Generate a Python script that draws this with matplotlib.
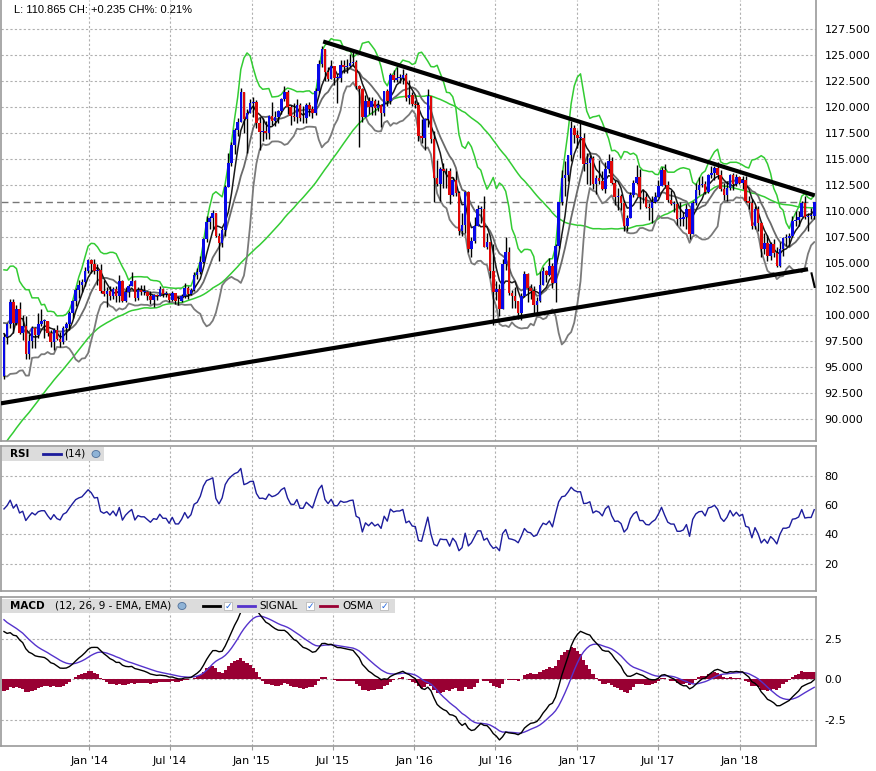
import numpy as np
import pandas as pd
import matplotlib
matplotlib.use("Agg")
import matplotlib.pyplot as plt
import matplotlib.dates as mdates
from matplotlib.patches import Rectangle, Circle
from matplotlib.lines import Line2D

# weekly USD/JPY candles, first week starts Mon 17 Jun 2013
first_week = "2013-06-17"
first_open = 94.1

close_2013 = [97.9, 99.1, 101.2, 99.2, 100.6, 98.3, 98.9, 96.2, 97.5, 98.7, 98.1, 99.1, 99.4, 99.4,
              98.3, 97.4, 98.6, 97.7, 97.4, 98.7, 99.1, 100.2, 101.3, 102.4, 102.9, 103.2, 104.2,
              105.3, 104.9]
high_2013 = [98.3, 99.2, 101.5, 101.5, 101.0, 101.2, 100.0, 99.9, 98.2, 98.9, 98.8, 100.2, 100.6, 99.6,
             99.4, 98.6, 98.7, 99.0, 98.4, 98.9, 99.3, 100.4, 101.4, 102.6, 103.4, 103.5, 104.6,
             105.4, 105.4]
low_2013 = [93.8, 97.2, 98.7, 98.3, 99.0, 98.2, 97.6, 95.8, 95.8, 96.8, 96.8, 97.8, 98.9, 97.8,
            98.0, 96.9, 96.6, 97.6, 96.9, 97.2, 97.6, 98.6, 99.7, 100.9, 101.6, 102.2, 102.8,
            104.0, 104.0]

close_2014 = [104.2, 104.3, 102.3, 102.0, 102.3, 101.8, 102.5, 101.8, 103.3, 101.3, 102.2, 102.8,
              103.3, 101.6, 102.4, 102.2, 102.2, 101.8, 101.4, 101.9, 101.8, 102.5, 102.0, 102.0,
              101.4, 102.1, 101.3, 101.3, 101.8, 102.6, 102.0, 102.4, 103.8, 104.1, 105.1, 107.3,
              108.9, 109.3, 109.8, 107.6, 106.9, 108.2, 112.3, 114.6, 116.3, 117.8, 118.6, 121.4,
              118.8, 119.4, 120.4, 120.5]
high_2014 = [105.4, 104.9, 104.9, 103.4, 102.7, 102.8, 102.7, 102.8, 103.8, 103.4, 102.7, 103.0,
             104.1, 103.4, 102.7, 102.9, 102.9, 102.3, 102.3, 102.0, 102.0, 102.8, 102.6, 102.3,
             102.1, 102.3, 102.1, 101.8, 102.0, 103.1, 102.8, 102.6, 104.1, 104.5, 105.7, 107.4,
             109.5, 109.5, 110.1, 109.2, 107.9, 108.4, 112.5, 115.6, 116.6, 118.0, 118.9, 121.8,
             121.4, 119.8, 120.8, 121.0]
low_2014 = [103.9, 102.9, 102.1, 101.8, 100.8, 101.4, 101.5, 101.2, 101.2, 101.2, 101.2, 101.7,
            102.8, 101.3, 101.4, 101.9, 101.9, 101.4, 101.1, 100.8, 101.4, 101.9, 101.7, 101.7,
            101.2, 101.3, 101.1, 101.0, 101.2, 101.6, 101.5, 101.9, 102.3, 103.5, 103.9, 105.0,
            107.0, 108.3, 108.3, 107.5, 105.2, 106.5, 107.6, 112.3, 114.3, 115.5, 117.2, 118.6,
            117.5, 115.6, 119.4, 119.0]

close_2015 = [118.5, 117.6, 117.7, 117.5, 119.1, 118.7, 119.0, 119.6, 120.8, 121.4, 120.0, 119.1,
              119.0, 120.2, 118.9, 118.9, 120.2, 119.8, 119.4, 121.5, 124.1, 125.6, 123.4, 122.7,
              123.9, 122.8, 122.8, 124.0, 123.8, 123.9, 124.2, 124.3, 122.0, 121.7, 119.0, 120.6,
              120.0, 120.6, 119.9, 120.2, 119.4, 121.5, 120.6, 123.1, 122.6, 122.8, 122.8, 123.1,
              120.9, 121.2, 120.3, 120.2]
high_2015 = [120.7, 119.0, 118.9, 118.7, 119.2, 120.5, 119.6, 119.7, 120.9, 122.0, 121.6, 120.2,
             120.4, 120.8, 120.4, 120.1, 120.4, 120.5, 120.1, 121.8, 124.5, 125.9, 125.6, 123.8,
             124.5, 123.6, 123.2, 124.5, 124.5, 124.6, 125.1, 125.3, 124.5, 122.1, 121.8, 121.2,
             121.0, 121.0, 120.8, 120.7, 120.3, 121.5, 121.7, 123.3, 123.6, 123.8, 123.2, 123.7,
             123.3, 122.6, 121.4, 120.7]
low_2015 = [118.0, 115.9, 116.7, 116.9, 116.9, 118.3, 118.2, 118.5, 119.3, 120.6, 119.3, 118.3,
            118.7, 118.5, 118.7, 118.5, 118.5, 119.1, 118.9, 119.2, 121.3, 123.8, 122.5, 122.5,
            122.7, 122.1, 120.4, 122.4, 123.3, 123.3, 123.8, 123.9, 121.7, 116.2, 118.6, 119.3,
            119.3, 119.2, 119.2, 119.6, 118.1, 119.1, 120.1, 120.3, 122.4, 122.4, 122.3, 122.2,
            120.6, 120.3, 120.1, 119.9]

close_2016 = [117.2, 117.0, 118.8, 121.1, 116.9, 113.2, 112.6, 114.0, 113.8, 113.8, 111.5, 113.0,
              111.7, 108.1, 108.7, 111.8, 106.3, 107.1, 108.6, 110.2, 110.2, 106.5, 107.0, 104.2,
              102.2, 102.5, 100.6, 104.9, 106.1, 102.1, 101.8, 101.3, 100.2, 101.8, 103.9, 102.6,
              102.3, 101.0, 101.3, 102.9, 104.2, 103.8, 104.7, 103.1, 106.6, 110.9, 113.2, 113.5,
              115.4, 118.0, 117.3, 117.0]
high_2016 = [120.5, 118.8, 118.9, 121.7, 121.0, 117.7, 114.9, 114.2, 114.6, 114.1, 114.1, 113.3,
             113.8, 111.9, 109.8, 111.9, 111.9, 107.5, 109.4, 110.6, 110.5, 111.4, 107.9, 107.0,
             106.8, 103.3, 103.0, 105.4, 107.5, 106.5, 102.4, 102.7, 101.3, 102.1, 104.2, 104.0,
             103.0, 102.8, 101.7, 104.2, 104.6, 104.3, 105.5, 105.0, 106.8, 110.9, 113.9, 114.8,
             115.4, 118.7, 118.3, 117.8]
low_2016 = [116.7, 116.5, 115.9, 118.1, 116.5, 110.9, 112.4, 111.0, 112.2, 112.2, 110.7, 111.4,
            111.4, 107.7, 107.6, 107.9, 106.1, 105.6, 106.9, 108.7, 108.8, 106.5, 106.3, 103.6,
            99.0, 101.4, 99.9, 100.7, 104.3, 101.9, 100.7, 100.7, 99.6, 99.5, 101.7, 101.2,
            101.5, 100.1, 100.1, 101.2, 102.9, 103.2, 103.7, 102.6, 101.2, 106.4, 110.6, 111.4,
            112.9, 114.8, 116.5, 116.1]

close_2017 = [117.0, 114.5, 114.6, 115.1, 112.6, 113.2, 112.9, 112.1, 114.0, 114.8, 112.7, 111.3,
              111.4, 110.8, 108.6, 109.3, 111.5, 112.7, 113.3, 111.3, 111.3, 110.4, 110.3, 110.9,
              111.3, 112.4, 113.9, 112.5, 111.1, 110.7, 110.7, 109.2, 109.2, 109.4, 110.2, 107.8,
              110.8, 112.0, 112.5, 112.6, 111.8, 113.5, 113.7, 114.1, 113.5, 112.1, 111.5, 112.2,
              113.5, 112.6, 113.3, 112.7]
high_2017 = [118.6, 117.5, 115.6, 115.4, 115.3, 113.5, 114.9, 113.8, 114.7, 115.5, 115.2, 113.0,
             112.2, 111.6, 111.1, 109.6, 111.8, 113.0, 114.4, 114.0, 112.1, 111.7, 110.8, 111.4,
             111.8, 113.0, 114.2, 114.5, 112.9, 112.0, 111.0, 110.9, 110.9, 109.9, 110.7, 110.3,
             111.0, 112.7, 113.3, 113.4, 112.9, 113.6, 114.3, 114.3, 114.7, 113.9, 112.7, 112.9,
             113.6, 113.7, 113.6, 113.4]
low_2017 = [115.1, 113.8, 112.6, 112.5, 112.1, 111.6, 112.6, 112.0, 111.7, 113.7, 112.6, 110.6,
            110.1, 110.1, 108.1, 108.1, 109.6, 111.3, 112.6, 110.2, 110.8, 110.3, 109.1, 108.8,
            110.8, 111.3, 112.4, 112.3, 110.9, 110.6, 109.9, 108.7, 108.6, 108.6, 108.3, 107.3,
            107.9, 110.6, 111.5, 112.3, 111.6, 111.7, 113.2, 113.0, 113.1, 111.9, 111.1, 111.0,
            112.0, 112.0, 112.4, 112.6]

close_2018 = [113.0, 111.0, 110.8, 108.6, 110.2, 108.8, 106.3, 106.9, 105.7, 106.8, 106.0, 104.7,
              106.3, 107.4, 107.4, 107.6, 109.0, 109.1, 109.4, 110.8, 109.4, 109.5, 109.5, 110.865]
high_2018 = [113.4, 113.4, 111.4, 111.2, 110.5, 110.5, 108.9, 107.9, 107.7, 107.0, 107.3, 106.5,
             107.0, 107.5, 107.8, 107.9, 109.5, 110.0, 110.0, 111.0, 111.4, 109.8, 110.3, 110.9]
low_2018 = [112.1, 110.9, 110.2, 108.3, 108.3, 108.1, 105.6, 105.9, 105.2, 105.3, 105.6, 104.6,
            104.6, 105.7, 106.6, 106.6, 107.5, 108.6, 108.6, 109.4, 109.2, 108.1, 109.2, 109.2]

# closes of the 52 weeks before the chart (Jun 2012 - Jun 2013), only to warm up the indicators
warmup_close = [80.4, 79.8, 79.7, 79.2, 78.5, 78.2, 78.4, 78.3, 79.5, 78.7, 78.3, 78.2, 78.4, 78.2,
                77.9, 78.7, 78.4, 79.3, 79.9, 80.4, 79.5, 81.3, 82.4, 82.5, 82.4, 83.5, 84.2, 86.0,
                88.1, 89.2, 90.0, 90.8, 92.7, 92.7, 93.5, 93.4, 93.6, 96.0, 95.3, 94.5, 94.2, 97.6,
                98.4, 99.5, 98.0, 99.0, 101.6, 103.2, 101.0, 100.5, 97.5, 94.1]

# hand-drawn trend lines (date, price)
upper_trend = (["2015-06-10", "2018-06-18"], [126.3, 111.5])
lower_trend = (["2013-06-16", "2018-06-03"], [91.5, 104.4])
stub_trend = (["2018-06-11", "2018-06-18"], [104.0, 102.7])

header = "L: 110.865 CH: +0.235 CH%: 0.21%"
tick_dates = ["2014-01-01", "2014-07-01", "2015-01-01", "2015-07-01", "2016-01-01",
              "2016-07-01", "2017-01-01", "2017-07-01", "2018-01-01"]
tick_labels = ["Jan '14", "Jul '14", "Jan '15", "Jul '15", "Jan '16",
               "Jul '16", "Jan '17", "Jul '17", "Jan '18"]
price_ticks = [90.0, 92.5, 95.0, 97.5, 100.0, 102.5, 105.0, 107.5, 110.0, 112.5, 115.0,
               117.5, 120.0, 122.5, 125.0, 127.5]
rsi_ticks = [20, 40, 60, 80]
macd_ticks = [-2.5, 0.0, 2.5]

close = np.array(close_2013 + close_2014 + close_2015 + close_2016 + close_2017 + close_2018)
high = np.array(high_2013 + high_2014 + high_2015 + high_2016 + high_2017 + high_2018)
low = np.array(low_2013 + low_2014 + low_2015 + low_2016 + low_2017 + low_2018)
opn = np.r_[first_open, close[:-1]]
high = np.maximum(high, np.maximum(opn, close))
low = np.minimum(low, np.minimum(opn, close))

n = len(close)
# candles sit at the end of their week
dates = pd.date_range(first_week, periods=n, freq="7D") + pd.Timedelta(days=6)
x = mdates.date2num(dates)

# indicators
full = pd.Series(warmup_close + list(close))
k = len(warmup_close)
sma5 = full.rolling(5).mean()[k:].values
sma10 = full.rolling(10).mean()
sd10 = full.rolling(10).std()
bb_up = (sma10 + 2 * sd10)[k:].values
bb_lo = (sma10 - 2 * sd10)[k:].values
sma10 = sma10[k:].values
sma52 = full.rolling(52, min_periods=1).mean()[k:].values

delta = full.diff()
gain = delta.clip(lower=0).ewm(alpha=1 / 14, adjust=False).mean()
loss = (-delta.clip(upper=0)).ewm(alpha=1 / 14, adjust=False).mean()
rsi = (100 - 100 / (1 + gain / loss))[k:].values

ema12 = full.ewm(span=12, adjust=False).mean()
ema26 = full.ewm(span=26, adjust=False).mean()
macd_s = ema12 - ema26
signal_s = macd_s.ewm(span=9, adjust=False).mean()
macd = macd_s[k:].values
signal = signal_s[k:].values
osma = macd - signal

# figure layout in pixels
W, H = 876, 771
fig = plt.figure(figsize=(W / 100, H / 100), dpi=100)


def box(l, t, r, b):
    return [l / W, 1 - b / H, (r - l) / W, (b - t) / H]


ax1 = fig.add_axes(box(1, 0, 816, 441))
ax2 = fig.add_axes(box(1, 446, 816, 591), sharex=ax1)
ax3 = fig.add_axes(box(1, 597, 816, 746), sharex=ax1)

tick_x = mdates.date2num(pd.to_datetime(tick_dates))
grid_kw = dict(color="#b0b0b0", linestyle=(0, (2, 2)), linewidth=0.8)

for ax in (ax1, ax2, ax3):
    ax.set_facecolor("white")
    for s in ax.spines.values():
        s.set_color("#9a9a9a")
        s.set_linewidth(1.2)
    ax.spines["top"].set_visible(ax is not ax1)
    ax.yaxis.tick_right()
    ax.tick_params(axis="y", length=0, pad=6, labelsize=8, colors="black")
    ax.set_xticks(tick_x)
    ax.grid(True, **grid_kw)
    ax.set_axisbelow(True)

ax1.tick_params(axis="x", length=0, labelbottom=False)
ax2.tick_params(axis="x", length=0, labelbottom=False)
ax3.set_xticklabels(tick_labels)
ax3.tick_params(axis="x", length=3, color="#9a9a9a", labelsize=8, pad=4)

ax1.set_xlim(x[0] - 6.7, x[-1] + 4)

# ---- price panel
ax1.plot(x, sma52, color="#33cc33", lw=1.1, zorder=2)
ax1.plot(x, bb_up, color="#33cc33", lw=1.1, zorder=2)
ax1.plot(x, bb_lo, color="#7a7a7a", lw=1.3, zorder=2)
ax1.plot(x, sma10, color="#6a6a6a", lw=1.3, zorder=2)
ax1.plot(x, sma5, color="#1a1a1a", lw=1.1, zorder=2)

ax1.vlines(x, low, high, color="black", lw=1, zorder=3)
body = close - opn
body = np.where(np.abs(body) < 0.08, 0.08, body)
cols = np.where(close >= opn, "#0808e8", "#e00808")
ax1.bar(x, body, bottom=opn, width=5.8, color=cols, linewidth=0, zorder=4)

for tr in (upper_trend, lower_trend):
    ax1.plot(mdates.date2num(pd.to_datetime(tr[0])), tr[1], color="black", lw=3,
             solid_capstyle="butt", zorder=5)
ax1.plot(mdates.date2num(pd.to_datetime(stub_trend[0])), stub_trend[1], color="black", lw=1.5,
         zorder=5)
ax1.axhline(close[-1], color="#777777", lw=1, linestyle=(0, (5, 3)), zorder=1.5)

ax1.set_ylim(87.88, 130.29)
ax1.set_yticks(price_ticks)
ax1.set_yticklabels([f"{v:.3f}" for v in price_ticks])
fig.text(14 / W, 1 - 10 / H, header, fontsize=8, va="center", ha="left",
         family=["Liberation Sans", "DejaVu Sans"])

# ---- RSI panel
ax2.plot(x, rsi, color="#1c1c9c", lw=1)
ax2.set_ylim(1.3, 100.3)
ax2.set_yticks(rsi_ticks)
ax2.set_yticklabels([str(v) for v in rsi_ticks])

# ---- MACD panel
ax3.bar(x, osma, width=7.0, color="#990033", linewidth=0, zorder=2)
ax3.plot(x, signal, color="#5533cc", lw=1, zorder=3)
ax3.plot(x, macd, color="black", lw=1, zorder=3)
ax3.set_ylim(-4.14, 5.09)
ax3.set_yticks(macd_ticks)
ax3.set_yticklabels([f"{v:.1f}" for v in macd_ticks])


# ---- legend boxes (pixel coordinates)
def px(xp, yp):
    return xp / W, 1 - yp / H


def legend_box(l, t, r, b):
    fig.patches.append(Rectangle(px(l, b), (r - l) / W, (b - t) / H, transform=fig.transFigure,
                                 facecolor="#dcdcdc", edgecolor="none", zorder=10))


def legend_line(x0, x1, yp, color):
    fig.lines.append(Line2D([x0 / W, x1 / W], [1 - yp / H] * 2, transform=fig.transFigure,
                            color=color, lw=2, zorder=11))


def globe(xp, yp):
    fig.patches.append(Circle(px(xp, yp), 4 / W, transform=fig.transFigure, facecolor="#8fb3d6",
                              edgecolor="#4f6f99", lw=0.6, zorder=11))


def check(xp, yp):
    fig.patches.append(Rectangle(px(xp - 4, yp + 4), 8 / W, 8 / H, transform=fig.transFigure,
                                 facecolor="white", edgecolor="#b0b0b0", lw=0.5, zorder=11))
    fig.text(xp / W, 1 - yp / H, "\u2713", fontsize=6.5, color="#2266dd", ha="center",
             va="center", fontweight="bold", zorder=12)


legend_box(2, 447, 104, 461)
fig.text(10 / W, 1 - 454 / H, "RSI", fontsize=7.5, fontweight="bold", va="center", zorder=12)
legend_line(43, 61, 454, "#1c1c9c")
fig.text(64 / W, 1 - 454 / H, "(14)", fontsize=7.5, va="center", zorder=12)
globe(96, 454)

legend_box(2, 599, 395, 613)
fig.text(10 / W, 1 - 606 / H, "MACD", fontsize=7.5, fontweight="bold", va="center", zorder=12)
fig.text(55 / W, 1 - 606 / H, "(12, 26, 9 - EMA, EMA)", fontsize=7.5, va="center", zorder=12)
globe(182, 606)
legend_line(203, 220, 606, "black")
check(228, 606)
legend_line(238, 255, 606, "#5533cc")
fig.text(259 / W, 1 - 606 / H, "SIGNAL", fontsize=7.5, va="center", zorder=12)
check(310, 606)
legend_line(320, 337, 606, "#990033")
fig.text(342 / W, 1 - 606 / H, "OSMA", fontsize=7.5, va="center", zorder=12)
check(384, 606)

fig.savefig("out.png", dpi=100, facecolor="white")
